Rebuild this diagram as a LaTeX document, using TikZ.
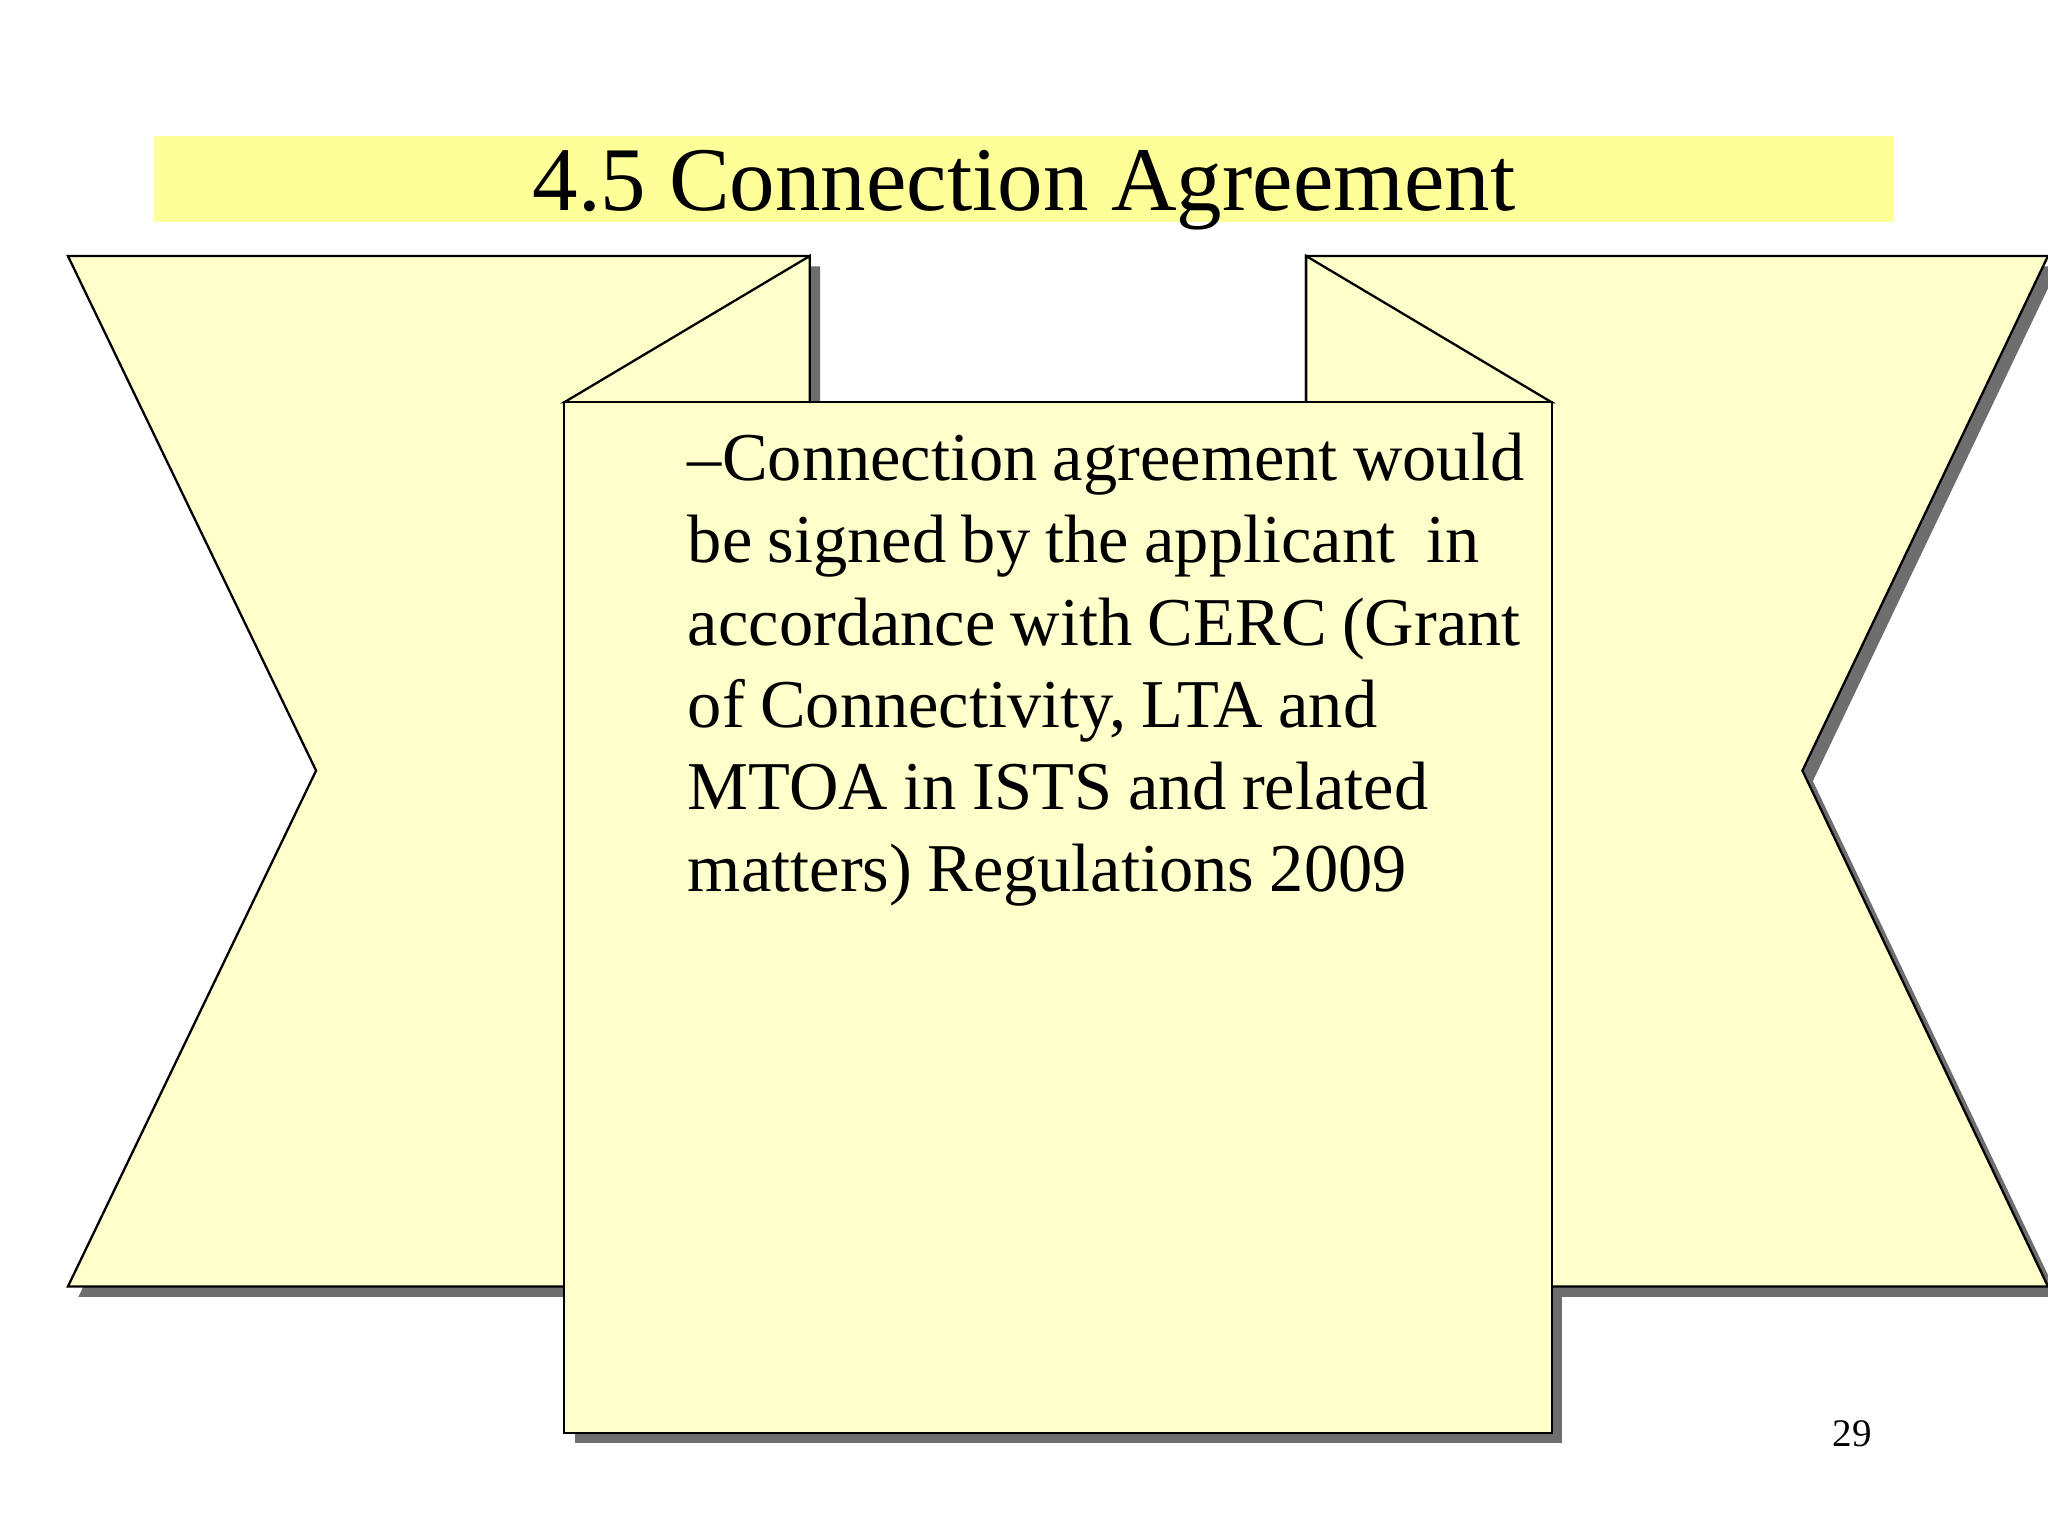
\documentclass[tikz,border=0pt]{standalone}
\usepackage{fontspec}
\setmainfont{Liberation Serif}
\definecolor{band}{RGB}{255,255,153}
\definecolor{pale}{RGB}{255,255,204}
\definecolor{shad}{RGB}{110,110,110}
\begin{document}
\begin{tikzpicture}[x=0.01cm,y=-0.01cm,
  panel/.style={draw=black,fill=pale,line width=0.5pt},
  shadowfill/.style={fill=shad,draw=none}]
\useasboundingbox (0,0) rectangle (1568,1176);
\fill[white] (0,0) rectangle (1568,1176);
\fill[band] (118,104) rectangle (1450,170);
\node (title) at (784,146) {\fontsize{19.8}{24}\selectfont 4.5 Connection Agreement};
% shadows
\fill[shadowfill,shift={(8,8)}] (52,196) -- (620,196) -- (620,985) -- (52,985) -- (242,590) -- cycle;
\fill[shadowfill,shift={(8,8)}] (1000,196) -- (1568,196) -- (1380,590) -- (1568,985) -- (1000,985) -- cycle;
\fill[shadowfill,shift={(8,8)}] (432,308) rectangle (1188,1097);
% banners
\draw[panel] (52,196) -- (620,196) -- (620,985) -- (52,985) -- (242,590) -- cycle;
\draw[panel] (1000,196) -- (1568,196) -- (1380,590) -- (1568,985) -- (1000,985) -- cycle;
\draw[panel] (620,196) -- (432,308) -- (620,308) -- cycle;
\draw[panel] (1000,196) -- (1188,308) -- (1000,308) -- cycle;
\draw[panel] (432,308) rectangle (1188,1097);
\node[anchor=north west,text width=6.7cm,align=left,inner sep=0pt] (body) at (526,331)
 {\fontsize{14.9}{17.9}\selectfont --Connection agreement would be signed by the applicant\ \ in accordance with CERC (Grant of Connectivity, LTA and MTOA in ISTS and related matters) Regulations 2009\par};
\node (num) at (1418,1098) {\fontsize{8.5}{10}\selectfont 29};
\end{tikzpicture}
\end{document}
